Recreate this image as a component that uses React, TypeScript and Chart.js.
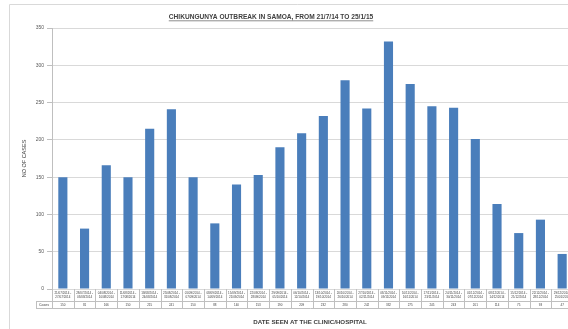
import React, { useEffect, useRef } from "react";
import { Chart, registerables } from "chart.js";

Chart.register(...registerables);

const chartTitle = "CHIKUNGUNYA OUTBREAK IN SAMOA, FROM 21/7/14 TO 25/1/15";
const xTitle = "DATE SEEN AT THE CLINIC/HOSPITAL";
const yTitle = "NO OF CASES";
const seriesName = "Cases";

const weekStart = [
  "21/07/2014", "28/07/2014", "04/08/2014", "11/08/2014", "18/08/2014", "25/08/2014",
  "01/09/2014", "08/09/2014", "15/09/2014", "22/09/2014", "29/09/2014", "06/10/2014",
  "13/10/2014", "20/10/2014", "27/10/2014", "03/11/2014", "10/11/2014", "17/11/2014",
  "24/11/2014", "01/12/2014", "08/12/2014", "15/12/2014", "22/12/2014", "29/12/2014",
];
const weekEnd = [
  "27/07/2014", "03/08/2014", "10/08/2014", "17/08/2014", "24/08/2014", "31/08/2014",
  "07/09/2014", "14/09/2014", "21/09/2014", "28/09/2014", "05/10/2014", "12/10/2014",
  "19/10/2014", "26/10/2014", "02/11/2014", "09/11/2014", "16/11/2014", "23/11/2014",
  "30/11/2014", "07/12/2014", "14/12/2014", "21/12/2014", "28/12/2014", "25/01/2015",
];
const cases = [
  150, 81, 166, 150, 215, 241, 150, 88, 140, 153, 190, 209,
  232, 280, 242, 332, 275, 245, 243, 201, 114, 75, 93, 47,
];
const yTicks = [0, 50, 100, 150, 200, 250, 300, 350];

const labels = weekStart.map((s, i) => [s + " -", weekEnd[i]]);

const tablePlugin = {
  id: "excelTable",
  afterDraw(chart: any) {
    const ctx = chart.ctx;
    const ca = chart.chartArea;
    const xs = chart.scales.x;
    const n = cases.length;
    const step = n > 1 ? xs.getPixelForValue(1) - xs.getPixelForValue(0) : 20;
    ctx.save();
    // outer chart border
    ctx.strokeStyle = "#d9d9d9";
    ctx.lineWidth = 1;
    ctx.beginPath();
    ctx.moveTo(9.5, 400);
    ctx.lineTo(9.5, 4.5);
    ctx.lineTo(chart.width, 4.5);
    ctx.stroke();

    // data table
    const rowTop = ca.bottom;
    const rowMid = ca.bottom + 12;
    const rowBot = ca.bottom + 19;
    const left = 36;
    ctx.strokeStyle = "#bfbfbf";
    ctx.beginPath();
    ctx.moveTo(left, rowMid + 0.5);
    ctx.lineTo(chart.width, rowMid + 0.5);
    ctx.moveTo(left, rowBot + 0.5);
    ctx.lineTo(chart.width, rowBot + 0.5);
    ctx.moveTo(left + 0.5, rowMid);
    ctx.lineTo(left + 0.5, rowBot);
    for (let i = 0; i <= n; i++) {
      const px = Math.round(xs.getPixelForValue(0) - step / 2 + i * step) + 0.5;
      ctx.moveTo(px, rowTop);
      ctx.lineTo(px, rowBot);
    }
    ctx.stroke();

    ctx.fillStyle = "#404040";
    ctx.textAlign = "center";
    ctx.textBaseline = "middle";
    ctx.font = "3px 'Liberation Sans', Arial, sans-serif";
    for (let i = 0; i < n; i++) {
      ctx.fillText(String(cases[i]), xs.getPixelForValue(i), rowMid + 4);
    }
    ctx.textAlign = "left";
    ctx.font = "3.5px 'Liberation Sans', Arial, sans-serif";
    ctx.fillText(seriesName, left + 3, rowMid + 4);

    // titles
    ctx.fillStyle = "#404040";
    ctx.textAlign = "center";
    ctx.textBaseline = "middle";
    ctx.font = "bold 6.6px 'Liberation Sans', Arial, sans-serif";
    const tw = ctx.measureText(chartTitle).width;
    const tx = 271;
    const ty = 17;
    ctx.fillText(chartTitle, tx, ty);
    ctx.strokeStyle = "#404040";
    ctx.lineWidth = 0.6;
    ctx.beginPath();
    ctx.moveTo(tx - tw / 2, ty + 3.8);
    ctx.lineTo(tx + tw / 2, ty + 3.8);
    ctx.stroke();

    ctx.font = "bold 6.2px 'Liberation Sans', Arial, sans-serif";
    ctx.fillText(xTitle, 310, 322);

    ctx.save();
    ctx.translate(24.5, (ca.top + ca.bottom) / 2);
    ctx.rotate(-Math.PI / 2);
    ctx.font = "5.5px 'Liberation Sans', Arial, sans-serif";
    ctx.fillText(yTitle, 0, 0);
    ctx.restore();

    ctx.restore();
  },
};

export default function App() {
  const ref = useRef<HTMLCanvasElement | null>(null);
  useEffect(() => {
    if (!ref.current) return;
    const chart = new Chart(ref.current, {
      type: "bar",
      data: {
        labels,
        datasets: [
          {
            label: seriesName,
            data: cases,
            backgroundColor: "#4a7ebb",
            borderWidth: 0,
            barPercentage: 0.42,
            categoryPercentage: 1,
          },
        ],
      },
      options: {
        responsive: false,
        animation: false,
        devicePixelRatio: 1,
        layout: { padding: { left: 0, top: 28, right: 12, bottom: 0 } },
        plugins: {
          legend: { display: false },
          title: { display: false },
          tooltip: { enabled: false },
        },
        scales: {
          x: {
            type: "category",
            offset: true,
            grid: { display: false, drawTicks: false },
            border: { display: false },
            ticks: {
              autoSkip: false,
              maxRotation: 0,
              minRotation: 0,
              padding: 2,
              color: "#404040",
              font: { size: 3, family: "'Liberation Sans', Arial, sans-serif", lineHeight: 1.3 },
            },
            afterFit(s: any) {
              s.height = 40;
            },
          },
          y: {
            min: 0,
            max: 350,
            afterBuildTicks(s: any) {
              s.ticks = yTicks.map((v) => ({ value: v }));
            },
            grid: {
              color: "#d9d9d9",
              tickColor: "#bfbfbf",
              tickLength: 5,
            },
            border: { display: true, color: "#bfbfbf" },
            ticks: {
              padding: 3,
              color: "#595959",
              font: { size: 5, family: "'Liberation Sans', Arial, sans-serif" },
            },
            afterFit(s: any) {
              s.width = 52;
            },
          },
        },
      },
      plugins: [tablePlugin],
    });
    return () => chart.destroy();
  }, []);
  return (
    <div
      style={{
        position: "fixed",
        left: 0,
        top: 0,
        width: 568,
        height: 329,
        overflow: "hidden",
        background: "#ffffff",
      }}
    >
      <canvas ref={ref} width={585} height={329} style={{ display: "block", width: 585, height: 329 }} />
    </div>
  );
}
